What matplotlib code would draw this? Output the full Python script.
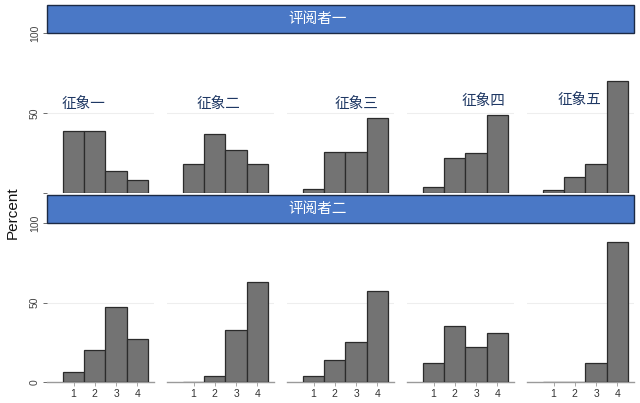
import numpy as np
import matplotlib
matplotlib.use("Agg")
import matplotlib.pyplot as plt
from matplotlib.patches import Rectangle

plt.rcParams['font.family'] = ['Liberation Sans', 'Noto Sans CJK SC', 'DejaVu Sans']

# 评分等级
categories = [1, 2, 3, 4]
signs = ["征象一", "征象二", "征象三", "征象四", "征象五"]
raters = ["评阅者一", "评阅者二"]

# 百分比
rater1 = [
    [39, 39, 14, 8],
    [18, 37, 27, 18],
    [2.5, 25.5, 25.5, 47],
    [4, 22, 25, 49],
    [2, 10, 18, 70],
]
rater2 = [
    [6, 20, 47, 27],
    [0, 4, 33, 63],
    [4, 14, 25, 57],
    [12, 35, 22, 31],
    [0, 0, 12, 88],
]
datos = [rater1, rater2]

# posiciones de las etiquetas de cada panel (coordenadas de datos)
label_pos = [(1.47, 55.5), (2.17, 55.5), (3.02, 55.5), (3.35, 57.5), (2.2, 58)]

W, H = 640, 403
fig = plt.figure(figsize=(W / 100, H / 100), dpi=100)

def fx(px):
    return px / W

def fy(py):
    return 1 - py / H

bar_color = "#737373"
edge_color = "#2b2b2b"
strip_color = "#4a78c6"

# filas: (strip top, strip bottom/100, zero line)
filas = [(5, 33, 193), (195, 223, 382)]

for r, (s_top, s_bot, y0) in enumerate(filas):
    for i in range(5):
        left = 47 + 120 * i
        ax = fig.add_axes([fx(left), fy(y0), 107 / W, (y0 - s_bot) / H])
        ax.bar(categories, datos[r][i], width=1.0, color=bar_color,
               edgecolor=edge_color, linewidth=0.9, zorder=3)
        ax.set_xlim(-0.25, 4.78)
        ax.set_ylim(0, 100)
        ax.axhline(50, color="#eeeeee", linewidth=0.8, zorder=0)
        for s in ["top", "right", "left"]:
            ax.spines[s].set_visible(False)
        if r == 1:
            ax.spines["bottom"].set_color("#9a9a9a")
            ax.spines["bottom"].set_linewidth(1.0)
            ax.set_xticks(categories)
            ax.set_xticklabels([str(c) for c in categories], fontsize=7.5, color="#333333")
            ax.tick_params(axis="x", length=3, width=0.6, color="#9a9a9a", pad=2)
        else:
            ax.spines["bottom"].set_visible(False)
            ax.set_xticks([])
            ax.text(label_pos[i][0], label_pos[i][1], signs[i], fontsize=10.5,
                    color="#1f3864", ha="center", va="center")
        if i == 0:
            ax.set_yticks([0, 50, 100])
            if r == 0:
                ax.set_yticklabels(["", "50", "100"])
            else:
                ax.set_yticklabels(["0", "50", "100"])
            ax.tick_params(axis="y", length=3, width=0.6, color="#555555",
                           labelsize=7.5, labelcolor="#444444", pad=2)
            for lab in ax.get_yticklabels():
                lab.set_rotation(90)
                lab.set_va("center")
        else:
            ax.set_yticks([])
        ax.patch.set_alpha(0)

    # strip
    sax = fig.add_axes([fx(47), fy(s_bot), (634 - 47) / W, (s_bot - s_top) / H])
    sax.set_xlim(0, 1)
    sax.set_ylim(0, 1)
    sax.axis("off")
    sax.add_patch(Rectangle((0, 0), 1, 1, transform=sax.transAxes,
                            facecolor=strip_color, edgecolor="#1c2a44",
                            linewidth=1.0, clip_on=False))
    fig.text(fx(318), fy((s_top + s_bot) / 2), raters[r], color="white",
             fontsize=10.5, ha="center", va="center")

fig.text(fx(13), fy(213), "Percent", rotation=90, fontsize=11,
         ha="center", va="center", color="#111111")

fig.savefig("out.png", dpi=100)
